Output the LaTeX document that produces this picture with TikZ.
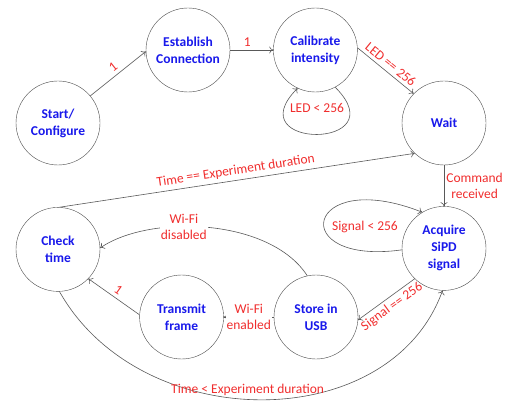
\documentclass[tikz,border=0pt]{standalone}
\usepackage{fontspec}
\setmainfont{Carlito}
\usetikzlibrary{arrows.meta,positioning}

\definecolor{stateblue}{RGB}{25,25,235}
\definecolor{labelred}{RGB}{240,45,45}

\begin{document}
\begin{tikzpicture}[
  x=1pt, y=1pt,
  node distance=42pt,
  state/.style={circle, draw=black!70, fill=white, minimum size=84pt,
                inner sep=0pt, align=center, text=stateblue,
                font=\fontsize{13.5}{17}\selectfont\bfseries},
  arr/.style={-{To[length=4pt,width=7pt]}, draw=black!65, line width=0.6pt},
  label/.style={font=\fontsize{13.5}{16}\selectfont, text=labelred, align=center},
  cover/.style={label, fill=white, inner sep=1pt}
]
\useasboundingbox (0,0) rectangle (510,404);

% States
\node[state] at (58,281)          (start)    {Start/\\Configure};
\node[state, below=of start]      (check)    {Check\\time};
\node[state] at (188,354)         (estab)    {Establish\\Connection};
\node[state, right=43pt of estab] (calib)    {Calibrate\\intensity};
\node[state] at (444,281)         (wait)     {Wait};
\node[state, below=41pt of wait]  (acquire)  {Acquire\\SiPD\\signal};
\node[state] at (316,87)          (store)    {Store in\\USB};
\node[state, left=50pt of store]  (transmit) {Transmit\\frame};

% Setup chain
\draw[arr] (start.40) -- node[label, sloped, above]{1} (estab.182);
\draw[arr] (estab) -- node[label, above, pos=0.4]{1} (calib);
\draw[arr] (calib.3) -- node[label, sloped, above]{LED == 256} (wait.136);
\draw[arr] (calib.-62) .. controls (398,254) and (236,254) .. (calib.-115);
\node[label] at (317,296) (ledloop) {LED < 256};

% Measurement loop
\draw[arr] (wait) -- node[label, right, inner sep=2pt]{Command\\received} (acquire);
\draw[arr] (acquire.182) .. controls (285,138) and (305,238) .. (acquire.121);
\node[label] at (365,177) (sigloop) {Signal < 256};
\draw[arr] (acquire.226) -- node[label, sloped, below]{Signal == 256} (store.-4);
\draw[arr] (store) -- node[cover]{Wi-Fi\\enabled} (transmit);
\draw[arr] (store.102) .. controls (270,186) and (150,190)
  .. node[cover, pos=0.6]{Wi-Fi\\disabled} (check.2);
\draw[arr] (transmit.177) -- node[label, sloped, above]{1} (check.-44);

% Time checks
\draw[arr] (check.88) -- node[label, sloped, above]{Time == Experiment duration} (wait.226);
\draw[arr] (check.-88) .. controls (141,-32) and (390,-32)
  .. node[label, above, pos=0.47]{Time < Experiment duration} (acquire.-92);

\end{tikzpicture}
\end{document}
